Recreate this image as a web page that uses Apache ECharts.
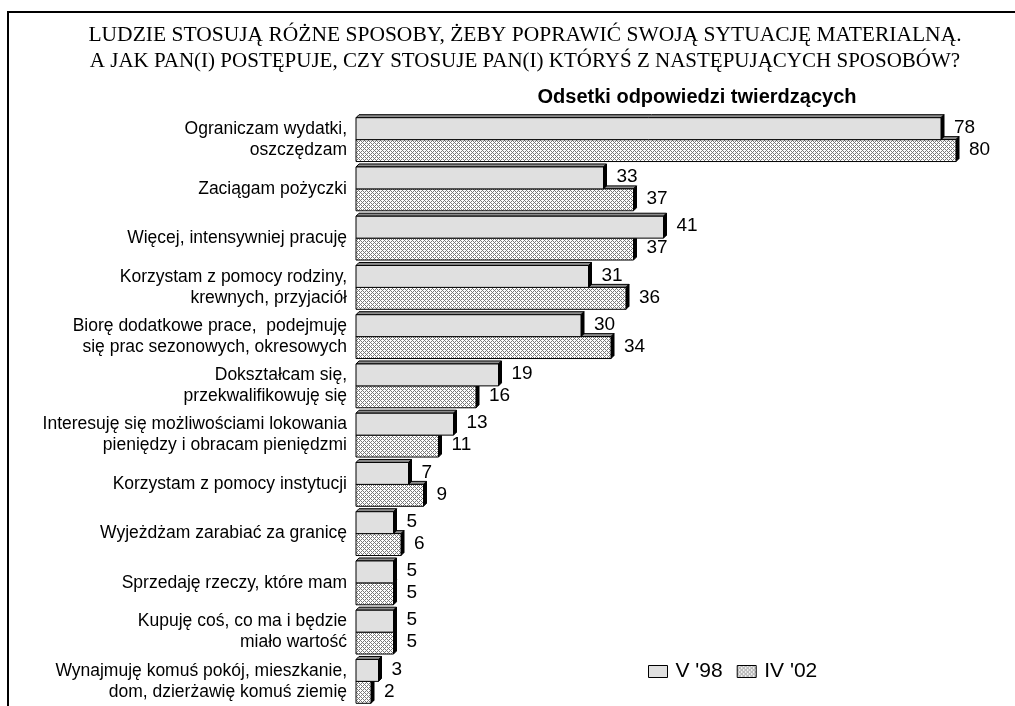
<!DOCTYPE html>
<html>
<head>
<meta charset="utf-8">
<script src="https://cdn.jsdelivr.net/npm/echarts@6/dist/echarts.min.js"></script>
<style>
  html, body { margin: 0; padding: 0; background: #fff; }
  #main { width: 1015px; height: 706px; }
</style>
</head>
<body>
<div id="main"></div>
<script>
var categories = [
  "Ograniczam wydatki,\noszczędzam",
  "Zaciągam pożyczki",
  "Więcej, intensywniej pracuję",
  "Korzystam z pomocy rodziny,\nkrewnych, przyjaciół",
  "Biorę dodatkowe prace,  podejmuję\nsię prac sezonowych, okresowych",
  "Dokształcam się,\nprzekwalifikowuję się",
  "Interesuję się możliwościami lokowania\npieniędzy i obracam pieniędzmi",
  "Korzystam z pomocy instytucji",
  "Wyjeżdżam zarabiać za granicę",
  "Sprzedaję rzeczy, które mam",
  "Kupuję coś, co ma i będzie\nmiało wartość",
  "Wynajmuję komuś pokój, mieszkanie,\ndom, dzierżawię komuś ziemię"
];
var v98 = [78, 33, 41, 31, 30, 19, 13, 7, 5, 5, 5, 3];
var iv02 = [80, 37, 37, 36, 34, 16, 11, 9, 6, 5, 5, 2];

// crosshatch fill for the second series
var pc = document.createElement("canvas");
pc.width = 4; pc.height = 4;
var pctx = pc.getContext("2d");
pctx.fillStyle = "#fff";
pctx.fillRect(0, 0, 4, 4);
pctx.fillStyle = "#7a7a7a";
for (var x = 0; x < 4; x++) {
  for (var y = 0; y < 4; y++) {
    if ((x + y) % 4 === 0 || ((x - y) + 4) % 4 === 0) pctx.fillRect(x, y, 1, 1);
  }
}
var hatch = { image: pc, repeat: "repeat" };

var DEPTH = 3;

function bar3d(upper, fill) {
  return function (params, api) {
    var idx = api.value(0);
    var val = api.value(1);
    var base = api.coord([0, idx]);
    var end = api.coord([val, idx]);
    var band = api.size([0, 1])[1];
    var h = band * 0.445;
    var x0 = base[0], x1 = end[0];
    var y0 = upper ? base[1] - h : base[1];
    var y1 = y0 + h;
    var d = DEPTH;
    return {
      type: "group",
      children: [
        {
          type: "polygon",
          shape: { points: [[x0, y0], [x0 + d, y0 - d], [x1 + d, y0 - d], [x1, y0]] },
          style: { fill: "#8c8c8c", stroke: "#000", lineWidth: 1 }
        },
        {
          type: "polygon",
          shape: { points: [[x1, y0], [x1 + d, y0 - d], [x1 + d, y1 - d], [x1, y1]] },
          style: { fill: "#000", stroke: "#000", lineWidth: 1 }
        },
        {
          type: "rect",
          shape: { x: x0, y: y0, width: x1 - x0, height: h },
          style: { fill: fill, stroke: "#000", lineWidth: 1 }
        },
        {
          type: "text",
          style: {
            text: String(val),
            x: x1 + 13,
            y: (y0 + y1) / 2 - 1,
            verticalAlign: "middle",
            fill: "#000",
            font: "19px 'Liberation Sans', Arial, sans-serif"
          }
        }
      ]
    };
  };
}

var serif = "'Liberation Serif', 'Times New Roman', serif";

var chart = echarts.init(document.getElementById("main"));
var option = {
  animation: false,
  title: [
    {
      text: "LUDZIE STOSUJĄ RÓŻNE SPOSOBY, ŻEBY POPRAWIĆ SWOJĄ SYTUACJĘ MATERIALNĄ.",
      left: 525,
      top: 22,
      textAlign: "center",
      padding: 0,
      textStyle: { fontFamily: serif, fontSize: 21.5, fontWeight: "normal", lineHeight: 26, color: "#000" }
    },
    {
      text: "A JAK PAN(I) POSTĘPUJE, CZY STOSUJE PAN(I) KTÓRYŚ Z NASTĘPUJĄCYCH SPOSOBÓW?",
      left: 525,
      top: 48,
      textAlign: "center",
      padding: 0,
      textStyle: { fontFamily: serif, fontSize: 21, fontWeight: "normal", lineHeight: 26, color: "#000" }
    },
    {
      text: "Odsetki odpowiedzi twierdzących",
      left: 697,
      top: 87,
      textAlign: "center",
      padding: 0,
      textStyle: {
        fontFamily: "'Liberation Sans', Arial, sans-serif",
        fontSize: 20,
        fontWeight: "bold",
        color: "#000"
      }
    }
  ],
  graphic: [
    {
      type: "rect",
      shape: { x: 8, y: 12, width: 1100, height: 800 },
      style: { fill: null, stroke: "#000", lineWidth: 2 },
      silent: true
    }
  ],
  legend: {
    left: 643,
    top: 656,
    itemWidth: 19,
    itemHeight: 12,
    itemGap: 14,
    icon: "rect",
    textStyle: {
      fontFamily: "'Liberation Sans', Arial, sans-serif",
      fontSize: 21,
      color: "#000",
      padding: [0, 0, 0, 3]
    },
    data: [
      { name: "V '98", itemStyle: { color: "#e0e0e0", borderColor: "#000", borderWidth: 1 } },
      { name: "IV '02", itemStyle: { color: hatch, borderColor: "#000", borderWidth: 1 } }
    ]
  },
  grid: {
    left: 356,
    top: 115,
    width: 637.5,
    height: 593
  },
  xAxis: {
    type: "value",
    min: 0,
    max: 85,
    show: false
  },
  yAxis: {
    type: "category",
    data: categories,
    inverse: true,
    axisLine: { show: false },
    axisTick: { show: false },
    axisLabel: {
      margin: 9,
      color: "#000",
      fontFamily: "'Liberation Sans', Arial, sans-serif",
      fontSize: 17.5,
      lineHeight: 21,
      align: "right"
    }
  },
  series: [
    {
      name: "V '98",
      type: "custom",
      z: 3,
      itemStyle: { color: "#e0e0e0" },
      renderItem: bar3d(true, "#e0e0e0"),
      encode: { x: 1, y: 0 },
      data: v98.map(function (v, i) { return [i, v]; })
    },
    {
      name: "IV '02",
      type: "custom",
      z: 2,
      itemStyle: { color: hatch },
      renderItem: bar3d(false, hatch),
      encode: { x: 1, y: 0 },
      data: iv02.map(function (v, i) { return [i, v]; })
    }
  ]
};
chart.setOption(option);
</script>
</body>
</html>
